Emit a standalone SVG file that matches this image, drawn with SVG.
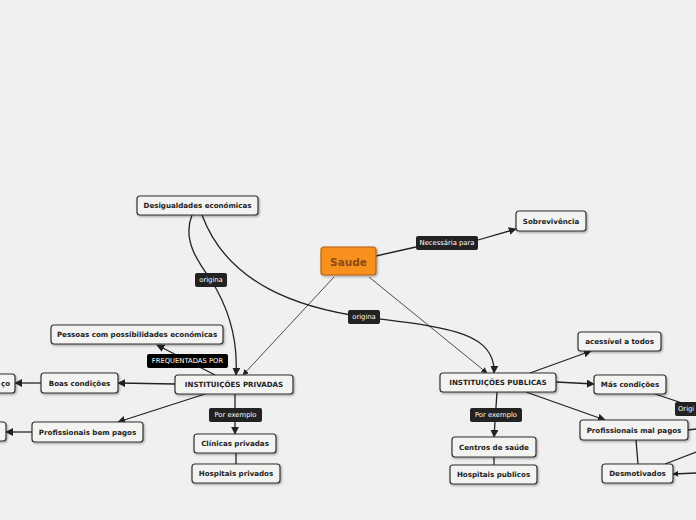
<svg xmlns="http://www.w3.org/2000/svg" width="696" height="520" viewBox="0 0 696 520">
<style>
.n rect{fill:#f3f3f1;stroke:#333;stroke-width:1.2;filter:url(#sh)}
.n text{font-family:"DejaVu Sans",Verdana,sans-serif;font-weight:bold;font-size:7.1px;fill:#222;text-anchor:middle;dominant-baseline:central}
.l rect{fill:#222}
.l text{font-family:"DejaVu Sans",Verdana,sans-serif;font-size:6.8px;fill:#fff;text-anchor:middle;dominant-baseline:central}
.c path{fill:none;stroke:#222;stroke-width:1.3}
.c .t{stroke-width:0.8}
</style>
<defs>
<filter id="sh" x="-10%" y="-20%" width="130%" height="160%">
<feDropShadow dx="1" dy="1.2" stdDeviation="0.8" flood-color="#000" flood-opacity="0.35"/>
</filter>
<marker id="a" viewBox="0 0 10 10" refX="9" refY="5" markerWidth="8" markerHeight="8" markerUnits="userSpaceOnUse" orient="auto">
<path d="M0,0 L10,5 L0,10 z" fill="#222"/>
</marker>
<marker id="s" viewBox="0 0 10 10" refX="9" refY="5" markerWidth="6" markerHeight="6" markerUnits="userSpaceOnUse" orient="auto">
<path d="M0,0 L10,5 L0,10 z" fill="#222"/>
</marker>
</defs>
<rect width="696" height="520" fill="#eff0ef"/>
<g id="connectors" class="c">
<path d="M376,256 L416,247"/>
<path d="M478,240 L516,229" marker-end="url(#a)"/>
<path class="t" d="M334,277 L243,375" marker-end="url(#s)"/>
<path class="t" d="M369,277 L487,373" marker-end="url(#s)"/>
<path d="M192,215 C182,240 198,262 211,280 C230,310 238,340 236,375" marker-end="url(#a)"/>
<path d="M202,215 C228,285 300,308 364,317 C440,327 496,330 494,373" marker-end="url(#a)"/>
<path d="M215,375 L157,345" marker-end="url(#a)"/>
<path d="M175,384 L118,383" marker-end="url(#a)"/>
<path d="M41,383 L15,383" marker-end="url(#a)"/>
<path d="M205,394 L118,422" marker-end="url(#a)"/>
<path d="M32,432 L6,432" marker-end="url(#a)"/>
<path d="M235,394 L235,434" marker-end="url(#a)"/>
<path d="M236,453 L236,464"/>
<path d="M530,373 L591,351" marker-end="url(#a)"/>
<path d="M556,382 L594,384" marker-end="url(#a)"/>
<path d="M526,392 L605,420" marker-end="url(#a)"/>
<path d="M655,394 L685,404"/>
<path d="M497,392 L494,437" marker-end="url(#a)"/>
<path d="M494,457 L494,465"/>
<path d="M636,440 L638,464"/>
<path d="M665,464 L696,452"/>
<path d="M696,473 L673,474" marker-end="url(#s)"/>
<path d="M688,430 L696,429"/>
</g>
<g id="label-necessaria" class="l"><rect x="416" y="236" width="62" height="14" rx="2"/><text x="447" y="243">Necessária para</text></g>
<g id="label-origina1" class="l"><rect x="195" y="273" width="32" height="14" rx="2"/><text x="211" y="280">origina</text></g>
<g id="label-origina2" class="l"><rect x="348" y="310" width="32" height="14" rx="2"/><text x="364" y="317">origina</text></g>
<g id="label-frequentadas" class="l"><rect x="147" y="354" width="81" height="14" rx="2" style="fill:#000"/><text x="187.5" y="361">FREQUENTADAS POR</text></g>
<g id="label-exemplo1" class="l"><rect x="209" y="408" width="53" height="14" rx="2"/><text x="235.5" y="415">Por exemplo</text></g>
<g id="label-exemplo2" class="l"><rect x="470" y="408" width="52" height="14" rx="2"/><text x="496" y="415">Por exemplo</text></g>
<g id="label-origi" class="l"><rect x="675" y="402" width="40" height="14" rx="2"/><text x="678" y="409" style="text-anchor:start">Origi</text></g>
<g id="n-saude" class="n"><rect x="321" y="247" width="55" height="28" rx="3" style="fill:#f7901e;stroke:#b8601a"/><text x="348.5" y="261.5" style="font-size:10.5px;fill:#8a4a18">Saude</text></g>
<g id="n-desigualdades" class="n"><rect x="137" y="196" width="121" height="19" rx="3"/><text x="197.5" y="205.5">Desigualdades económicas</text></g>
<g id="n-sobrevivencia" class="n"><rect x="516" y="211" width="70" height="20" rx="3"/><text x="551" y="221">Sobrevivência</text></g>
<g id="n-pessoas" class="n"><rect x="51" y="325" width="172" height="19" rx="3"/><text x="137" y="334.5">Pessoas com possibilidades económicas</text></g>
<g id="n-privadas" class="n"><rect x="175" y="375" width="118" height="19" rx="3"/><text x="234" y="384.5">INSTITUIÇÕES PRIVADAS</text></g>
<g id="n-boas" class="n"><rect x="41" y="373" width="77" height="20" rx="3"/><text x="79.5" y="383">Boas condições</text></g>
<g id="n-left1" class="n"><rect x="-60" y="374" width="75" height="19" rx="3"/><text x="1" y="383.5" style="text-anchor:start">ço</text></g>
<g id="n-bempagos" class="n"><rect x="32" y="422" width="111" height="20" rx="3"/><text x="87.5" y="432">Profissionais bem pagos</text></g>
<g id="n-left2" class="n"><rect x="-60" y="422" width="66" height="19" rx="3"/></g>
<g id="n-clinicas" class="n"><rect x="194" y="434" width="82" height="19" rx="3"/><text x="235" y="443.5">Clínicas privadas</text></g>
<g id="n-hospriv" class="n"><rect x="192" y="464" width="88" height="19" rx="3"/><text x="236" y="473.5">Hospitais privados</text></g>
<g id="n-publicas" class="n"><rect x="440" y="373" width="116" height="19" rx="3"/><text x="498" y="382.5">INSTITUIÇÕES PUBLICAS</text></g>
<g id="n-acessivel" class="n"><rect x="578" y="332" width="83" height="19" rx="3"/><text x="619.5" y="341.5">acessível a todos</text></g>
<g id="n-mas" class="n"><rect x="594" y="375" width="72" height="19" rx="3"/><text x="630" y="384.5">Más condições</text></g>
<g id="n-malpagos" class="n"><rect x="580" y="420" width="108" height="20" rx="3"/><text x="634" y="430">Profissionais mal pagos</text></g>
<g id="n-desmotivados" class="n"><rect x="602" y="464" width="71" height="19" rx="3"/><text x="637.5" y="473.5">Desmotivados</text></g>
<g id="n-centros" class="n"><rect x="452" y="437" width="84" height="20" rx="3"/><text x="494" y="447">Centros de saúde</text></g>
<g id="n-hospub" class="n"><rect x="450" y="465" width="87" height="19" rx="3"/><text x="493.5" y="474.5">Hospitais publicos</text></g>
</svg>
